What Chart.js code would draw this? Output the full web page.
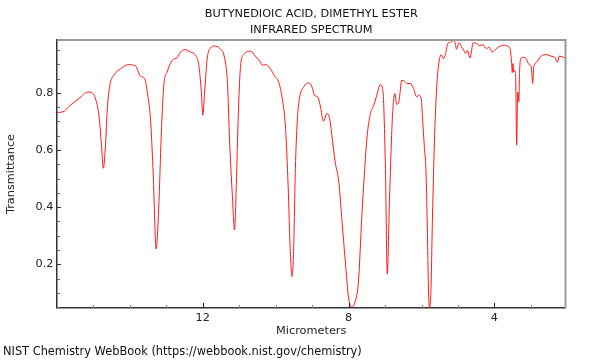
<!DOCTYPE html>
<html>
<head>
<meta charset="utf-8">
<script src="https://cdn.jsdelivr.net/npm/chart.js@4/dist/chart.umd.min.js"></script>
<style>
  html, body { margin: 0; padding: 0; background: #fff; }
  #wrap { width: 600px; height: 360px; }
</style>
</head>
<body>
<div id="wrap"><canvas id="ir" width="600" height="360"></canvas></div>
<script>
// spectrum (micrometers, transmittance)
const microns = [
  16.00, 15.80, 15.67, 15.40, 15.15, 15.03, 14.92, 14.85, 14.78, 14.73, 14.67, 14.62, 14.55, 14.44, 14.25, 14.03,
  13.84, 13.71, 13.60, 13.51, 13.43, 13.36, 13.28, 13.21, 13.14, 13.07, 12.98, 12.84, 12.70, 12.61, 12.49, 12.34,
  12.20, 12.11, 12.04, 12.00, 11.95, 11.88, 11.79, 11.68, 11.53, 11.41, 11.32, 11.27, 11.19, 11.13, 11.08, 11.03,
  10.97, 10.88, 10.69, 10.56, 10.42, 10.37, 10.26, 10.15, 10.03, 9.92, 9.82, 9.73, 9.66, 9.60, 9.55, 9.51,
  9.46, 9.41, 9.35, 9.23, 9.10, 9.05, 8.99, 8.94, 8.85, 8.78, 8.69, 8.59, 8.52, 8.46, 8.37, 8.27,
  8.18, 8.09, 8.00, 7.91, 7.82, 7.73, 7.64, 7.57, 7.49, 7.40, 7.31, 7.24, 7.13, 7.06, 6.99, 6.94,
  6.88, 6.80, 6.73, 6.68, 6.62, 6.54, 6.47, 6.40, 6.31, 6.22, 6.13, 6.07, 6.01, 5.96, 5.92, 5.88,
  5.84, 5.81, 5.78, 5.74, 5.70, 5.64, 5.58, 5.52, 5.46, 5.40, 5.34, 5.28, 5.19, 5.13, 5.08, 5.04,
  4.97, 4.90, 4.84, 4.79, 4.74, 4.67, 4.58, 4.49, 4.40, 4.31, 4.22, 4.15, 4.06, 3.95, 3.84, 3.73,
  3.64, 3.57, 3.53, 3.51, 3.49, 3.47, 3.45, 3.42, 3.39, 3.36, 3.33, 3.31, 3.28, 3.21, 3.12, 3.05,
  2.99, 2.95, 2.92, 2.84, 2.72, 2.58, 2.45, 2.33, 2.27, 2.22, 2.13, 2.05
];
const transmittance = [
  0.731, 0.736, 0.753, 0.780, 0.803, 0.800, 0.769, 0.722, 0.617, 0.536, 0.617, 0.745, 0.827, 0.862, 0.885, 0.899,
  0.894, 0.858, 0.851, 0.792, 0.699, 0.512, 0.253, 0.396, 0.652, 0.827, 0.873, 0.914, 0.924, 0.943, 0.952, 0.943,
  0.932, 0.897, 0.803, 0.722, 0.803, 0.920, 0.957, 0.964, 0.955, 0.926, 0.827, 0.645, 0.442, 0.320, 0.477, 0.710,
  0.885, 0.934, 0.946, 0.929, 0.908, 0.897, 0.899, 0.885, 0.859, 0.838, 0.780, 0.676, 0.477, 0.244, 0.157, 0.244,
  0.536, 0.699, 0.780, 0.821, 0.835, 0.833, 0.815, 0.792, 0.786, 0.757, 0.701, 0.728, 0.710, 0.652, 0.559, 0.489,
  0.349, 0.209, 0.081, 0.050, 0.069, 0.139, 0.361, 0.512, 0.652, 0.728, 0.757, 0.786, 0.829, 0.809, 0.536, 0.165,
  0.419, 0.710, 0.798, 0.760, 0.770, 0.844, 0.841, 0.833, 0.833, 0.815, 0.786, 0.792, 0.780, 0.687, 0.606, 0.536,
  0.326, 0.116, 0.048, 0.116, 0.361, 0.652, 0.827, 0.908, 0.934, 0.920, 0.938, 0.973, 0.978, 0.984, 0.976, 0.953,
  0.976, 0.961, 0.949, 0.938, 0.949, 0.922, 0.976, 0.973, 0.965, 0.969, 0.955, 0.961, 0.943, 0.955, 0.964, 0.967,
  0.964, 0.955, 0.908, 0.871, 0.903, 0.873, 0.879, 0.868, 0.617, 0.803, 0.769, 0.873, 0.920, 0.925, 0.918, 0.899,
  0.891, 0.833, 0.891, 0.908, 0.929, 0.934, 0.929, 0.922, 0.908, 0.929, 0.926, 0.922
];

// ticks: every position gets a mark, only the major ones get a label
const xTicks = [3, 4, 5, 6, 7, 8, 9, 10, 11, 12, 13, 14, 15];
const xLabels = [4, 8, 12];
const yTicks = [0.05, 0.1, 0.15, 0.2, 0.25, 0.3, 0.35, 0.4, 0.45, 0.5, 0.55, 0.6, 0.65, 0.7, 0.75, 0.8, 0.85, 0.9, 0.95];
const yLabels = [0.2, 0.4, 0.6, 0.8];

const FONT = "'DejaVu Sans', sans-serif";
const isMajor = (list, v) => list.some((m) => Math.abs(m - v) < 1e-6);

Chart.defaults.color = "#222";
Chart.defaults.font.family = FONT;
Chart.defaults.font.size = 11.3;

// inward tick marks + the grey top/right edges of the frame
const framePlugin = {
  id: "frame",
  afterDatasetsDraw(chart) {
    const { ctx, chartArea: a, scales: { x, y } } = chart;
    ctx.save();
    ctx.strokeStyle = "#9a9a9a";
    ctx.lineWidth = 2;
    ctx.beginPath();
    ctx.moveTo(a.left, a.top);
    ctx.lineTo(a.right, a.top);
    ctx.lineTo(a.right, a.bottom);
    ctx.stroke();

    ctx.lineWidth = 1;
    xTicks.forEach((v) => {
      const px = Math.round(x.getPixelForValue(v)) + 0.5;
      const major = isMajor(xLabels, v);
      ctx.strokeStyle = major ? "#222" : "#888";
      ctx.beginPath();
      ctx.moveTo(px, a.bottom);
      ctx.lineTo(px, a.bottom - (major ? 5 : 3));
      ctx.stroke();
    });
    yTicks.forEach((v) => {
      const py = Math.round(y.getPixelForValue(v)) + 0.5;
      const major = isMajor(yLabels, v);
      ctx.strokeStyle = major ? "#333" : "#666";
      ctx.beginPath();
      ctx.moveTo(a.left, py);
      ctx.lineTo(a.left + (major ? 4 : 3), py);
      ctx.stroke();
    });
    ctx.restore();
  }
};

new Chart(document.getElementById("ir"), {
  type: "line",
  data: {
    datasets: [{
      data: microns.map((m, i) => ({ x: m, y: transmittance[i] })),
      borderColor: "#ff1a1a",
      borderWidth: 1,
      pointRadius: 0,
      cubicInterpolationMode: "monotone",
      fill: false
    }]
  },
  options: {
    responsive: false,
    animation: false,
    layout: { padding: { left: 3, right: 34.5, top: 0, bottom: 0 } },
    plugins: {
      legend: { display: false },
      tooltip: { enabled: false },
      title: {
        display: true,
        fullSize: false,
        text: ["BUTYNEDIOIC ACID, DIMETHYL ESTER", "INFRARED SPECTRUM"],
        color: "#111",
        font: { family: FONT, size: 11.3, weight: "normal", lineHeight: 1.42 },
        padding: { top: 6, bottom: 2 }
      },
      subtitle: {
        display: true,
        position: "bottom",
        align: "start",
        text: "NIST Chemistry WebBook (https://webbook.nist.gov/chemistry)",
        color: "#111",
        font: { family: FONT, size: 11.4, lineHeight: 1.2 },
        padding: { top: 0, bottom: 1 }
      }
    },
    scales: {
      x: {
        type: "linear",
        reverse: true,
        min: 2.05,
        max: 16,
        grid: { display: false, drawTicks: false },
        border: { display: true, color: "#333", width: 1.5 },
        afterBuildTicks: (s) => { s.ticks = xTicks.map((v) => ({ value: v })); },
        afterFit: (s) => { s.height = 37.4; },
        ticks: {
          autoSkip: false,
          maxRotation: 0,
          padding: 3,
          callback: (v) => (isMajor(xLabels, v) ? String(v) : "")
        },
        title: { display: true, text: "Micrometers", padding: { top: 0, bottom: 7 } }
      },
      y: {
        type: "linear",
        min: 0.047,
        max: 0.985,
        grid: { display: false, drawTicks: false },
        border: { display: true, color: "#333", width: 1.5 },
        afterBuildTicks: (s) => { s.ticks = yTicks.map((v) => ({ value: v })); },
        afterFit: (s) => { s.width = 54; },
        ticks: {
          autoSkip: false,
          padding: 3.5,
          callback: (v) => (isMajor(yLabels, v) ? v.toFixed(1) : "")
        },
        title: { display: true, text: "Transmittance", padding: { top: 1.2, bottom: 0 } }
      }
    }
  },
  plugins: [framePlugin]
});
</script>
</body>
</html>
